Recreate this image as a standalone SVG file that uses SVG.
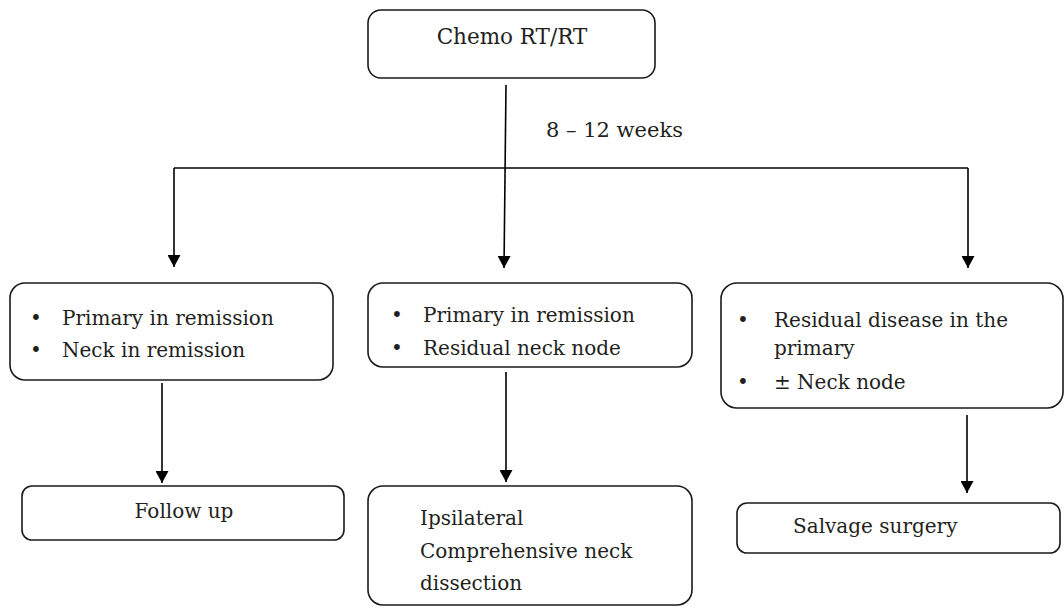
<svg xmlns="http://www.w3.org/2000/svg" width="1064" height="608" viewBox="0 0 1064 608">
  <defs>
    <marker id="arrow" viewBox="0 0 12 13" refX="12" refY="6.5" markerWidth="12" markerHeight="13" markerUnits="userSpaceOnUse" orient="auto">
      <path d="M0,0 L12,6.5 L0,13 Z" fill="#000"/>
    </marker>
    <style>
      .box { fill: #fff; stroke: #1a1a1a; stroke-width: 1.6; }
      .link { fill: none; stroke: #000; stroke-width: 1.6; }
      .arr { marker-end: url(#arrow); }
      text { font-family: "DejaVu Serif", "Liberation Serif", serif; font-size: 20px; fill: #231f20; }
      .mid { text-anchor: middle; }
    </style>
  </defs>
  <rect width="1064" height="608" fill="#fff"/>

  <!-- connectors -->
  <g id="connectors">
    <path class="link arr" d="M506,85 L504,268"/>
    <path class="link" d="M174,168 L968,168"/>
    <path class="link arr" d="M174,168 L174,267"/>
    <path class="link arr" d="M968,168 L968,268"/>
    <path class="link arr" d="M162,383 L162,483"/>
    <path class="link arr" d="M506,372 L506,482"/>
    <path class="link arr" d="M967,415 L967,493"/>
  </g>

  <text x="546" y="137" style="font-size:21px">8 – 12 weeks</text>

  <!-- start -->
  <g id="node-chemo">
    <rect class="box" x="368" y="10" width="287" height="68" rx="13"/>
    <text class="mid" x="512" y="44" style="font-size:21.5px">Chemo RT/RT</text>
  </g>

  <!-- response groups -->
  <g id="node-complete">
    <rect class="box" x="10" y="283" width="323" height="97" rx="15"/>
    <text x="30" y="325">•</text>
    <text x="62" y="325">Primary in remission</text>
    <text x="30" y="357">•</text>
    <text x="62" y="357">Neck in remission</text>
  </g>

  <g id="node-neck-residual">
    <rect class="box" x="368" y="283" width="324" height="84" rx="15"/>
    <text x="391" y="322">•</text>
    <text x="423" y="322">Primary in remission</text>
    <text x="391" y="355">•</text>
    <text x="423" y="355">Residual neck node</text>
  </g>

  <g id="node-primary-residual">
    <rect class="box" x="721" y="283" width="342" height="125" rx="16"/>
    <text x="737" y="327">•</text>
    <text x="774" y="327">Residual disease in the</text>
    <text x="774" y="355">primary</text>
    <text x="737" y="389">•</text>
    <text x="774" y="389">± Neck node</text>
  </g>

  <!-- outcomes -->
  <g id="node-follow-up">
    <rect class="box" x="22" y="486" width="322" height="54" rx="10"/>
    <text class="mid" x="184" y="518">Follow up</text>
  </g>

  <g id="node-neck-dissection">
    <rect class="box" x="368" y="486" width="324" height="119" rx="15"/>
    <text x="420" y="525">Ipsilateral</text>
    <text x="420" y="558">Comprehensive neck</text>
    <text x="420" y="590">dissection</text>
  </g>

  <g id="node-salvage">
    <rect class="box" x="737" y="503" width="323" height="50" rx="10"/>
    <text x="793" y="533">Salvage surgery</text>
  </g>
</svg>
